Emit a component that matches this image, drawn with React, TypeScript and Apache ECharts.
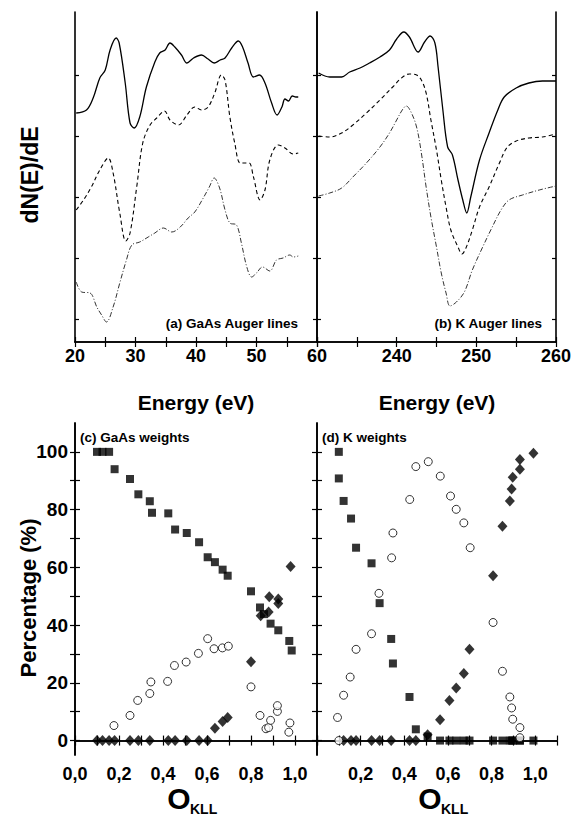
import React, { useEffect, useRef } from "react";
import * as echarts from "echarts";

// ---------- (a) GaAs Auger lines: energy (eV) and dN/dE (arb. units) ----------
const gaasSolidE = [20.2,21.9,23.0,24.1,25.0,25.8,26.8,27.3,28.3,29.1,29.8,30.7,31.8,33.2,34.0,34.9,35.7,36.5,37.6,38.5,39.6,40.9,42.0,43.0,44.0,44.8,45.9,47.0,47.7,48.6,49.5,50.5,51.4,52.5,53.4,54.2,54.7,55.3,55.9,56.5,56.9];
const gaasSolidV = [229,232,244,264,272,292,304,299,259,219,214,225,255,280,289,292,299,295,287,279,284,287,283,279,282,284,294,301,295,279,265,267,259,239,227,235,243,241,246,245,245];
const gaasDashE = [20.2,21.4,22.7,24.1,25.5,26.3,27.4,28.4,29.1,30.2,31.2,32.4,33.5,34.8,35.7,37.1,38.5,39.8,40.9,42.0,43.1,44.2,44.8,45.6,46.4,47.3,48.1,48.8,49.5,50.6,51.4,52.2,53.6,54.7,56.1,56.9];
const gaasDashV = [132,142,155,172,184,169,129,101,109,155,199,217,224,231,222,217,227,235,232,235,249,267,262,225,199,179,179,179,165,142,152,182,197,194,188,189];
const gaasDotE = [20.2,21.1,22.5,23.6,24.4,25.2,26.3,27.4,28.5,29.4,30.7,32.1,33.2,34.6,36.0,37.4,38.7,39.8,41.2,42.2,43.0,43.9,44.8,45.6,46.7,47.5,48.4,49.2,50.0,51.0,52.2,53.3,54.4,55.5,56.1,56.9];
const gaasDotV = [60,50,49,35,27,20,35,59,82,97,100,105,109,114,110,115,124,130,144,155,164,154,132,119,117,99,75,65,69,75,71,82,84,87,85,86];

// ---------- (b) K Auger lines ----------
const kSolidE = [230.2,231.6,233.1,234.1,235.4,236.6,237.9,239.1,240.0,240.9,241.6,242.7,243.5,244.2,244.8,245.2,245.8,246.4,247.0,247.7,248.3,248.8,249.3,250.4,251.6,252.7,253.5,255.0,256.6,258.3,260];
const kSolidV = [269,265,265,270,274,279,285,292,303,310,305,290,300,306,299,275,232,195,187,162,142,129,145,182,209,232,245,254,259,261,261];
const kDashE = [230.2,231.6,233.1,234.5,236.2,237.9,239.5,240.6,241.6,242.5,243.1,243.7,244.3,245.0,245.6,246.2,246.8,247.7,248.2,248.7,249.5,250.4,251.6,252.9,253.9,255.0,256.6,258.3,260];
const kDashV = [206,205,209,217,229,242,255,264,268,267,262,249,222,192,162,135,112,95,88,94,112,135,155,179,195,201,204,205,208];
const kDotE = [230.2,231.6,233.1,234.5,236.2,237.9,239.1,240.0,240.7,241.2,241.8,242.5,243.1,243.7,244.3,245.0,245.6,246.2,246.7,247.5,248.5,249.5,250.8,252.0,253.1,254.1,255.8,257.9,260];
const kDotV = [146,149,154,165,179,195,209,222,232,236,230,215,189,155,125,95,69,49,36,40,50,72,95,115,132,142,147,152,156];

// ---------- (c) GaAs weights ----------
const cSquareX = [0.1,0.125,0.155,0.18,0.25,0.288,0.34,0.35,0.424,0.455,0.508,0.564,0.603,0.636,0.671,0.694,0.8,0.841,0.859,0.889,0.924,0.974,0.985];
const cSquareY = [100,100,100,94,90.6,85.3,82.9,78.9,78.7,73.1,71.9,68.7,63.5,61.8,59.2,57.1,51.7,46.1,43.8,40.5,38.2,34.5,31.2];
const cDiamondX = [0.1,0.125,0.155,0.18,0.25,0.288,0.34,0.424,0.455,0.508,0.564,0.603,0.636,0.671,0.694,0.8,0.844,0.88,0.883,0.924,0.924,0.98];
const cDiamondY = [0,0,0,0,0,0,0,0,0,0,0,0,4.3,6.6,8,27.3,43.2,44.5,49.8,49,47.5,60.3];
const cCircleX = [0.177,0.25,0.285,0.34,0.345,0.421,0.452,0.505,0.561,0.603,0.632,0.67,0.697,0.8,0.841,0.868,0.88,0.889,0.92,0.92,0.972,0.977];
const cCircleY = [5.2,8.7,13.9,16.3,20.3,20.5,26,27.2,30.2,35.3,31.8,32.1,32.7,18.6,8.7,4.1,4.5,7,10.1,12.1,2.9,6.1];

// ---------- (d) K weights ----------
const dSquareX = [0.1,0.1,0.122,0.156,0.179,0.25,0.287,0.34,0.348,0.424,0.453,0.507,0.564,0.607,0.638,0.673,0.699,0.807,0.85,0.884,0.892,0.897,0.93,0.93,0.992];
const dSquareY = [100,90.8,83,76.9,66.8,61.4,47.6,35.2,26.7,15.1,3.9,1.4,0,0,0,0,0,0,0,0,0,0,0,0,0];
const dDiamondX = [0.122,0.156,0.179,0.25,0.287,0.34,0.424,0.453,0.507,0.564,0.607,0.638,0.673,0.699,0.807,0.85,0.884,0.892,0.897,0.93,0.93,0.992];
const dDiamondY = [0,0,0,0,0,0,0,0,2,7.2,13.9,18.2,23.2,31.6,57.1,74.2,83,87.1,91.2,94,97.4,99.5];
const dCircleX = [0.1,0.094,0.122,0.152,0.179,0.25,0.284,0.342,0.348,0.425,0.453,0.51,0.565,0.612,0.638,0.673,0.702,0.807,0.85,0.884,0.892,0.897,0.93,0.93];
const dCircleY = [0,8,15.7,22,31.6,37,51,63.3,71.9,83.5,94.9,96.6,91.6,84.7,80.1,75.4,66.8,40.9,24,15.1,11.3,7.4,4.5,1];

// tick values
const topYTicks = [23, 84, 145, 206, 267];
const pctTicks = [0, 10, 20, 30, 40, 50, 60, 70, 80, 90, 100];
const pctLabels = [0, 20, 40, 60, 80, 100];

const FONT = "Liberation Sans, Arial, Helvetica, sans-serif";

const zip = (xs: number[], ys: number[]) => xs.map((x, i) => [x, ys[i]]);

export default function App() {
  const ref = useRef<HTMLDivElement>(null);
  useEffect(() => {
    if (!ref.current) return;
    const chart = echarts.init(ref.current, null, { renderer: "svg" });

    const grids = [
      { left: 75, top: 12, width: 242, height: 330 },
      { left: 317, top: 12, width: 240, height: 330 },
      { left: 75, top: 423, width: 242, height: 332 },
      { left: 317, top: 423, width: 240, height: 332 },
    ].map((g) => ({ ...g, show: false, containLabel: false }));

    const axisLine = { show: true, lineStyle: { color: "#000", width: 1.6 } };
    const tick = { show: true, inside: true, length: 5, lineStyle: { color: "#000", width: 1.2 } };
    const lbl = { color: "#000", fontFamily: FONT, fontWeight: "bold" as const, fontSize: 18 };

    const xRanges = [
      { min: 20, max: 60, interval: 5, fmt: (v: number) => (v % 10 === 0 ? String(v) : ""), margin: 5 },
      { min: 230, max: 260, interval: 5, fmt: (v: number) => (v % 10 === 0 && v !== 230 ? String(v) : ""), margin: 5 },
      { min: 0, max: 1.1, interval: 0.1, fmt: (v: number) => { const k = Math.round(v * 10); return k % 2 === 0 && k <= 10 ? (k / 10).toFixed(1).replace(".", ",") : ""; }, margin: 10 },
      { min: 0, max: 1.1, interval: 0.1, fmt: (v: number) => { const k = Math.round(v * 10); return k % 2 === 0 && k > 0 && k <= 10 ? (k / 10).toFixed(1).replace(".", ",") : ""; }, margin: 10 },
    ];

    const xAxis: any[] = [];
    xRanges.forEach((r, i) => {
      xAxis.push({
        type: "value", gridIndex: i, position: "bottom", min: r.min, max: r.max, interval: r.interval,
        axisLine, axisTick: tick, splitLine: { show: false },
        axisLabel: { ...lbl, formatter: r.fmt, margin: r.margin, showMinLabel: true, showMaxLabel: true },
      });
    });
    xRanges.forEach((r, i) => {
      xAxis.push({
        type: "value", gridIndex: i, position: "top", min: r.min, max: r.max, interval: r.interval,
        axisLine, axisTick: tick, splitLine: { show: false }, axisLabel: { show: false },
      });
    });

    const yAxis: any[] = [];
    for (let i = 0; i < 4; i++) {
      const top = i < 2;
      yAxis.push({
        type: "value", gridIndex: i, position: "left",
        min: top ? 0 : -5, max: top ? 330 : 110,
        axisLine, splitLine: { show: false },
        axisTick: { ...tick, length: top ? 4 : 5, customValues: top ? topYTicks : pctTicks },
        axisLabel: i === 2
          ? { ...lbl, fontSize: 19, margin: 7, customValues: pctLabels }
          : { show: false },
      });
    }
    for (let i = 0; i < 4; i++) {
      const top = i < 2;
      yAxis.push({
        type: "value", gridIndex: i, position: "right",
        min: top ? 0 : -5, max: top ? 330 : 110,
        axisLine, splitLine: { show: false },
        axisTick: { ...tick, length: top ? 4 : 5, customValues: top ? topYTicks : pctTicks },
        axisLabel: { show: false },
      });
    }

    const line = (i: number, xs: number[], ys: number[], type: any, width: number, color = "#000") => ({
      type: "line", xAxisIndex: i, yAxisIndex: i, data: zip(xs, ys), showSymbol: false, smooth: 0.35,
      lineStyle: { color, width, type }, silent: true,
    });
    const scat = (i: number, xs: number[], ys: number[], kind: string) => {
      const base: any = { type: "scatter", xAxisIndex: i, yAxisIndex: i, data: zip(xs, ys), silent: true };
      if (kind === "square") return { ...base, symbol: "rect", symbolSize: 8, itemStyle: { color: "#000" }, z: 3 };
      if (kind === "diamond") return { ...base, symbol: "diamond", symbolSize: [10, 11], itemStyle: { color: "#000" }, z: 4 };
      return { ...base, symbol: "circle", symbolSize: 8, itemStyle: { color: "#fff", borderColor: "#000", borderWidth: 1 }, z: 5 };
    };

    const series = [
      line(0, gaasSolidE, gaasSolidV, "solid", 1.3),
      line(0, gaasDashE, gaasDashV, [4, 3], 1.1),
      line(0, gaasDotE, gaasDotV, [5, 2, 1, 2], 1, "#333"),
      line(1, kSolidE, kSolidV, "solid", 1.3),
      line(1, kDashE, kDashV, [4, 3], 1.1),
      line(1, kDotE, kDotV, [5, 2, 1, 2], 1, "#333"),
      scat(2, cSquareX, cSquareY, "square"),
      scat(2, cDiamondX, cDiamondY, "diamond"),
      scat(2, cCircleX, cCircleY, "circle"),
      scat(3, dSquareX, dSquareY, "square"),
      scat(3, dDiamondX, dDiamondY, "diamond"),
      scat(3, dCircleX, dCircleY, "circle"),
    ];

    const txt = (text: string, x: number, y: number, size: number, align = "center", rot = 0) => ({
      type: "text", x, y, rotation: rot,
      style: { text, font: `bold ${size}px ${FONT}`, fill: "#000", textAlign: align, textVerticalAlign: "middle" },
      z: 10,
    });

    const graphic = [
      txt("dN(E)/dE", 30, 175, 23, "center", Math.PI / 2),
      txt("Percentage (%)", 28, 598, 22, "center", Math.PI / 2),
      txt("Energy (eV)", 196, 402, 21),
      txt("Energy (eV)", 437, 402, 21),
      txt("(a) GaAs Auger lines", 298, 323, 13.5, "right"),
      txt("(b) K Auger lines", 542, 323, 13.5, "right"),
      txt("(c) GaAs weights", 80, 437, 13.5, "left"),
      txt("(d) K weights", 322, 437, 13.5, "left"),
      txt("O", 179, 798, 30),
      txt("KLL", 190, 809, 14, "left"),
      txt("O", 430, 798, 30),
      txt("KLL", 441, 809, 14, "left"),
    ];

    chart.setOption({
      animation: false,
      backgroundColor: "#fff",
      grid: grids,
      xAxis,
      yAxis,
      series,
      graphic,
    });
    return () => chart.dispose();
  }, []);

  return <div ref={ref} style={{ position: "fixed", left: 0, top: 0, width: 574, height: 817 }} />;
}
